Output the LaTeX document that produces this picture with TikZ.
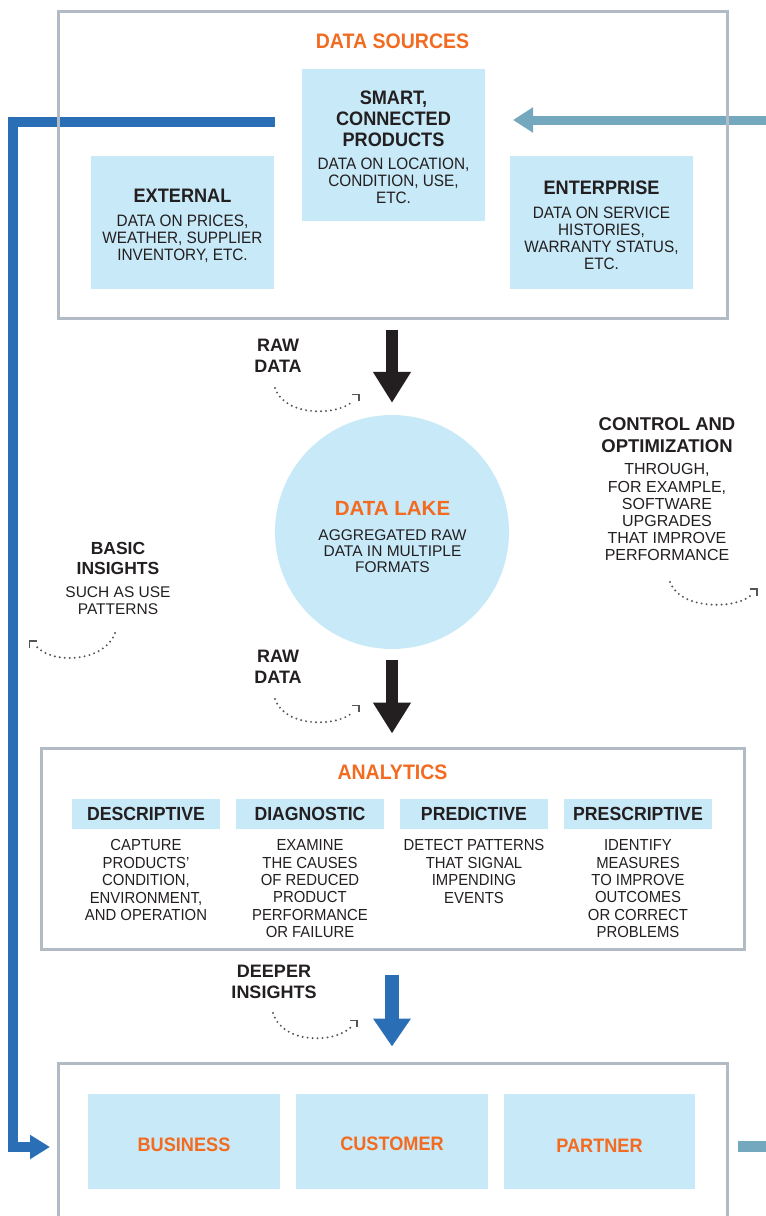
\documentclass[tikz,border=0pt]{standalone}
\usepackage{fontspec}
\setmainfont{Liberation Sans}
\newfontfamily\condf{Liberation Sans}[FakeStretch=0.93]
\usetikzlibrary{arrows.meta,calc}
\pgfdeclarelayer{bg}
\pgfsetlayers{bg,main}
\definecolor{orng}{RGB}{242,107,33}
\definecolor{lblue}{RGB}{200,233,248}
\definecolor{gbord}{RGB}{178,187,195}
\definecolor{dblue}{RGB}{42,111,181}
\definecolor{tealc}{RGB}{116,168,191}
\definecolor{ink}{RGB}{35,31,32}
\definecolor{dotc}{RGB}{85,85,85}
\begin{document}
\begin{tikzpicture}[x=1pt,y=-1pt,
  frame/.style={draw=gbord, line width=3pt, inner sep=0pt},
  lbox/.style={fill=lblue, inner sep=0pt},
  txt/.style={text=ink, inner sep=0pt, align=center},
  bodyc/.style={txt, font={\condf\fontsize{16.5}{17.2}\selectfont}},
  bodya/.style={txt, font={\condf\fontsize{16}{17.4}\selectfont}},
  titc/.style={txt, font={\condf\bfseries\fontsize{19.5}{21}\selectfont}},
  hdr/.style={txt, font={\condf\bfseries\fontsize{19}{21}\selectfont}},
  otit/.style={txt, text=orng, font={\condf\bfseries\fontsize{21}{24}\selectfont}},
  olab/.style={txt, text=orng, font={\condf\bfseries\fontsize{19.5}{22}\selectfont}},
  owide/.style={txt, text=orng, font={\bfseries\fontsize{20.5}{23}\selectfont}},
  wideb/.style={txt, font={\bfseries\fontsize{18}{21}\selectfont}},
  wider/.style={txt, font={\fontsize{16}{17.2}\selectfont}},
  blk/.style={draw=ink, line width=12pt, -{Triangle[length=31pt,width=36pt]}},
  bluarr/.style={draw=dblue, line width=14pt, -{Triangle[length=28pt,width=36pt]}},
  bline/.style={draw=dblue, line width=10pt, line join=miter, -{Triangle[length=20pt,width=23pt]}},
  tline/.style={draw=tealc, line width=9pt, -{Triangle[length=20pt,width=24pt]}},
  dots/.style={draw=dotc, line width=2.2pt, line cap=round, dash pattern=on 0pt off 5pt},
  brk/.style={draw=dotc, line width=1.3pt}
]
\useasboundingbox (0,0) rectangle (766,1216);

% frames
\node[frame, minimum width=669pt, minimum height=307pt] (sources) at (392.5,164.5) {};
\node[frame, minimum width=703pt, minimum height=201pt] (analytics) at (392.5,848.5) {};
\node[frame, minimum width=669pt, minimum height=170pt] (users) at (392.5,1148) {};

% light boxes
\node[lbox, minimum width=183pt, minimum height=152pt] (smart) at (393.5,145) {};
\node[lbox, minimum width=183pt, minimum height=133pt] (external) at (182.5,222.5) {};
\node[lbox, minimum width=183pt, minimum height=133pt] (enterprise) at (601.5,222.5) {};
\node[circle, fill=lblue, inner sep=0pt, minimum size=234pt] (lake) at (392,532) {};
\node[lbox, hdr, minimum width=148pt, minimum height=30pt] (desc) at (146,814) {DESCRIPTIVE};
\node[lbox, hdr, minimum width=148pt, minimum height=30pt] (diag) at (310,814) {DIAGNOSTIC};
\node[lbox, hdr, minimum width=148pt, minimum height=30pt] (pred) at (474,814) {PREDICTIVE};
\node[lbox, hdr, minimum width=148pt, minimum height=30pt] (presc) at (638,814) {PRESCRIPTIVE};
\node[lbox, minimum width=192pt, minimum height=95pt] (business) at (184,1141.5) {};
\node[lbox, minimum width=192pt, minimum height=95pt] (customer) at (392,1141.5) {};
\node[lbox, minimum width=191pt, minimum height=95pt] (partner) at (599.5,1141.5) {};

% texts
\node[otit] (dstitle) at (392.5,41) {DATA SOURCES};
\node[titc, anchor=north] (smartt) at (393.5,90.3) {SMART,\\CONNECTED\\PRODUCTS};
\node[bodyc, anchor=north] (smartb) at (393.5,157.3) {DATA ON LOCATION,\\CONDITION, USE,\\ETC.};
\node[titc] (extt) at (182.5,196) {EXTERNAL};
\node[bodyc, anchor=north] (extb) at (182.5,214.3) {DATA ON PRICES,\\WEATHER, SUPPLIER\\INVENTORY, ETC.};
\node[titc] (entt) at (601.5,188) {ENTERPRISE};
\node[bodyc, anchor=north] (entb) at (601.5,206.3) {DATA ON SERVICE\\HISTORIES,\\WARRANTY STATUS,\\ETC.};

\node[wideb, anchor=north] (raw1) at (278,338.8) {RAW\\DATA};
\node[wideb, anchor=north] (raw2) at (278,649.8) {RAW\\DATA};
\node[owide] (laket) at (392.5,508) {DATA LAKE};
\node[txt, anchor=north, font={\fontsize{15.5}{16}\selectfont}] (lakeb) at (392.5,529.5) {AGGREGATED RAW\\DATA IN MULTIPLE\\FORMATS};
\node[txt, anchor=north, font={\bfseries\fontsize{18.5}{22}\selectfont}] (ctrlt) at (667,417.8) {CONTROL AND\\OPTIMIZATION};
\node[wider, anchor=north] (ctrlb) at (667,463.5) {THROUGH,\\FOR EXAMPLE,\\SOFTWARE\\UPGRADES\\THAT IMPROVE\\PERFORMANCE};
\node[txt, anchor=north, font={\bfseries\fontsize{17.5}{20}\selectfont}] (basict) at (118,541.8) {BASIC\\INSIGHTS};
\node[txt, anchor=north, font={\fontsize{15.5}{17}\selectfont}] (basicb) at (118,586.5) {SUCH AS USE\\PATTERNS};

\node[otit] (antitle) at (392.5,772) {ANALYTICS};
\node[bodya, anchor=north] (descb) at (146,839.5) {CAPTURE\\PRODUCTS’\\CONDITION,\\ENVIRONMENT,\\AND OPERATION};
\node[bodya, anchor=north] (diagb) at (310,839.5) {EXAMINE\\THE CAUSES\\OF REDUCED\\PRODUCT\\PERFORMANCE\\OR FAILURE};
\node[bodya, anchor=north] (predb) at (474,839.5) {DETECT PATTERNS\\THAT SIGNAL\\IMPENDING\\EVENTS};
\node[bodya, anchor=north] (prescb) at (638,839.5) {IDENTIFY\\MEASURES\\TO IMPROVE\\OUTCOMES\\OR CORRECT\\PROBLEMS};

\node[wideb, anchor=north] (deeper) at (274,964.8) {DEEPER\\INSIGHTS};

\node[olab] (busl) at (184,1145) {BUSINESS};
\node[olab] (cusl) at (392,1144) {CUSTOMER};
\node[olab] (parl) at (599.5,1146) {PARTNER};

% connectors under frames
\coordinate (b1) at (275,122);
\coordinate (b2) at (13,1147);
\coordinate (b3) at (50,1147);
\coordinate (t1) at (772,120);
\coordinate (t2) at (513,120);
\coordinate (t3) at (738,1146.5);
\coordinate (t4) at (772,1146.5);
\begin{pgfonlayer}{bg}
\draw[bline] (b1) -| (b2) -- (b3);
\draw[tline] (t1) -- (t2);
\draw[tealc, line width=11pt] (t3) -- (t4);
\draw[blk, shorten <=10pt, shorten >=12pt] (lake.north |- sources.south) -- (lake.north);
\draw[blk, shorten <=11pt, shorten >=13pt] (lake.south) -- (lake.south |- analytics.north);
\draw[bluarr, shorten <=24pt, shorten >=15pt] (lake.south |- analytics.south) -- (lake.south |- users.north);
\end{pgfonlayer}

% dotted arcs
\draw[dots] (275,388) .. controls (285,417) and (338,416) .. (353,401);
\draw[brk] (352,394.5) -- (359,394.5) -- (359,401);
\draw[dots] (275,699) .. controls (285,728) and (338,727) .. (353,712);
\draw[brk] (352,705.5) -- (359,705.5) -- (359,712);
\draw[dots] (273,1013) .. controls (283,1045) and (336,1043) .. (351,1027);
\draw[brk] (350,1020.5) -- (357,1020.5) -- (357,1027);
\draw[dots] (670,582) .. controls (680,610) and (735,609) .. (750,596);
\draw[brk] (750,589) -- (757,589) -- (757,595.5);
\draw[dots] (115,633) .. controls (105,662) and (52,665) .. (36,646);
\draw[brk] (37,641) -- (29.5,641) -- (29.5,647.5);
\end{tikzpicture}
\end{document}
